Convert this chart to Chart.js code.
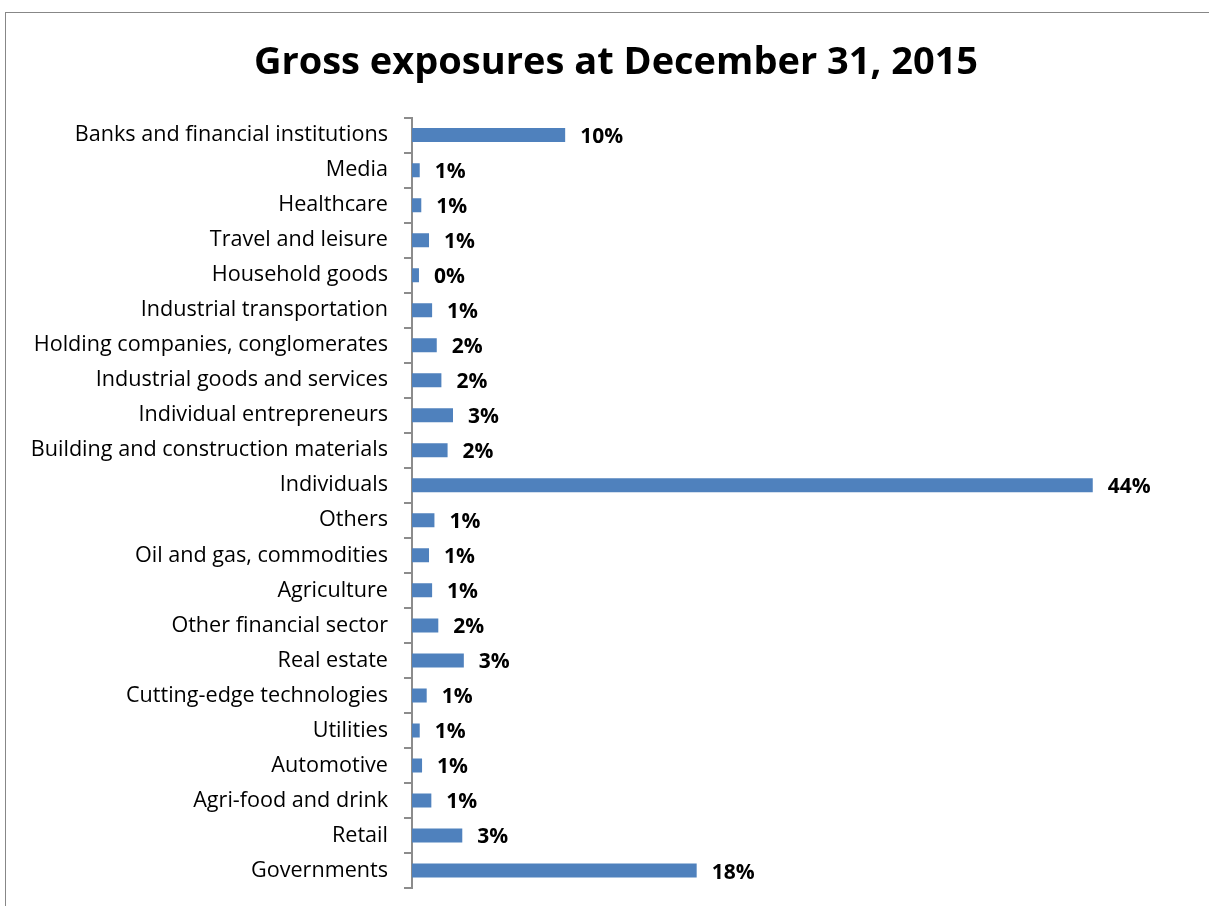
<!DOCTYPE html>
<html lang="en">
<head>
  <meta charset="UTF-8" />
  <title>Gross exposures at December 31, 2015</title>
  <script src="https://cdn.jsdelivr.net/npm/chart.js"></script>
  <style>
    html, body {
      margin: 0;
      padding: 0;
      background: #fff;
      overflow: hidden;
    }

    .frame {
      position: absolute;
      left: 5px;
      top: 12px;
      width: 1300px;
      height: 1000px;
      border-top: 1px solid #878787;
      border-left: 1px solid #878787;
    }

    .chart-box {
      position: absolute;
      left: 0;
      top: 0;
      width: 1232px;
      height: 917px;
    }
  </style>
</head>
<body>
  <div class="frame"></div>
  <div class="chart-box">
    <canvas id="exposureChart"></canvas>
  </div>
  <script>
    const sectors = [
      'Banks and financial institutions',
      'Media',
      'Healthcare',
      'Travel and leisure',
      'Household goods',
      'Industrial transportation',
      'Holding companies, conglomerates',
      'Industrial goods and services',
      'Individual entrepreneurs',
      'Building and construction materials',
      'Individuals',
      'Others',
      'Oil and gas, commodities',
      'Agriculture',
      'Other financial sector',
      'Real estate',
      'Cutting-edge technologies',
      'Utilities',
      'Automotive',
      'Agri-food and drink',
      'Retail',
      'Governments'
    ];

    // share of gross exposures, %
    const exposurePct = [
      9.9, 0.5, 0.6, 1.1, 0.45, 1.3, 1.6, 1.9, 2.65, 2.3,
      44.0, 1.45, 1.1, 1.3, 1.7, 3.35, 0.95, 0.5, 0.65, 1.25,
      3.25, 18.4
    ];

    // labels as printed on the chart
    const shownPct = [
      '10%', '1%', '1%', '1%', '0%', '1%', '2%', '2%', '3%', '2%',
      '44%', '1%', '1%', '1%', '2%', '3%', '1%', '1%', '1%', '1%',
      '3%', '18%'
    ];

    const labelFont = '"Open Sans", Lato, sans-serif';

    const valueLabels = {
      id: 'valueLabels',
      afterDatasetsDraw(chart) {
        const ctx = chart.ctx;
        const meta = chart.getDatasetMeta(0);
        ctx.save();
        ctx.font = 'bold 21px ' + labelFont;
        ctx.fillStyle = '#000';
        ctx.textAlign = 'left';
        ctx.textBaseline = 'middle';
        meta.data.forEach((bar, i) => {
          ctx.fillText(shownPct[i], bar.x + 15, bar.y + 2);
        });
        ctx.restore();
      }
    };

    const ctx = document.getElementById('exposureChart').getContext('2d');

    new Chart(ctx, {
      type: 'bar',
      data: {
        labels: sectors,
        datasets: [{
          data: exposurePct,
          backgroundColor: '#4F81BD',
          borderWidth: 0,
          barPercentage: 0.4,
          categoryPercentage: 1.0
        }]
      },
      options: {
        indexAxis: 'y',
        responsive: true,
        maintainAspectRatio: false,
        animation: false,
        layout: {
          padding: { top: 40, right: 0, bottom: 8, left: 0 }
        },
        plugins: {
          legend: { display: false },
          tooltip: { enabled: false },
          title: {
            display: true,
            text: 'Gross exposures at December 31, 2015',
            color: '#000',
            font: { family: labelFont, size: 38, weight: 'bold' },
            padding: { top: 0, bottom: 32 }
          }
        },
        scales: {
          x: {
            display: false,
            min: 0,
            max: 53
          },
          y: {
            afterFit: s => { s.width = 412; },
            grid: {
              offset: true,
              drawOnChartArea: false,
              tickLength: 8,
              color: '#8c8c8c',
              lineWidth: 2
            },
            border: { color: '#8c8c8c', width: 2 },
            ticks: {
              color: '#000',
              padding: 16,
              font: { family: labelFont, size: 21.6 }
            }
          }
        }
      },
      plugins: [valueLabels]
    });
  </script>
</body>
</html>
